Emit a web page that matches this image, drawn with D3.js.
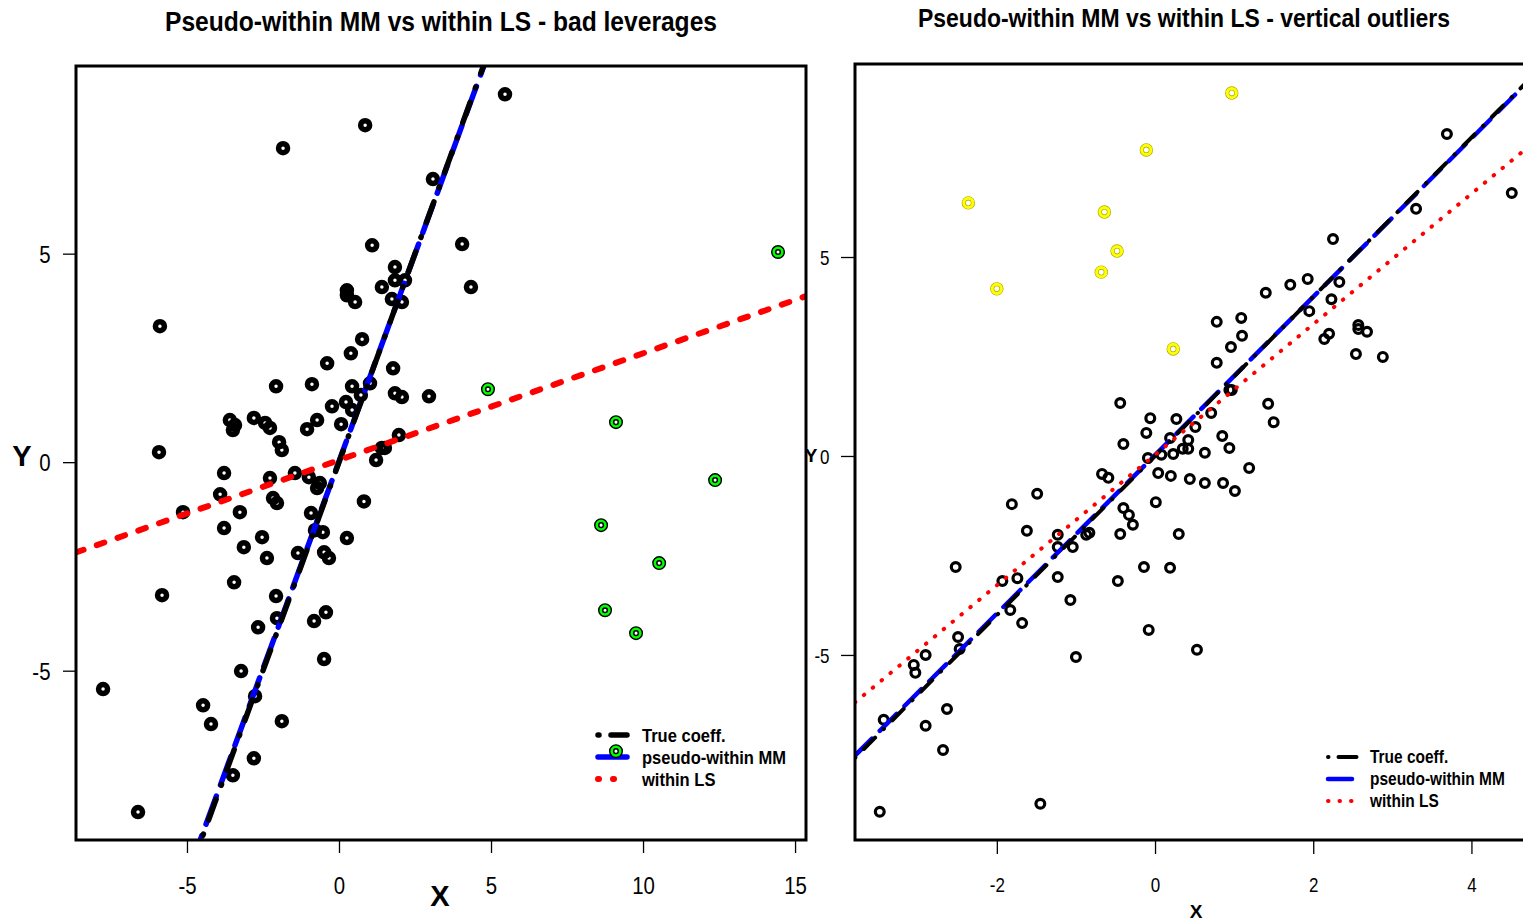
<!DOCTYPE html>
<html>
<head>
<meta charset="utf-8">
<script src="https://cdn.jsdelivr.net/npm/d3@7"></script>
<style>
  body { margin: 0; background: #fff; }
  svg { display: block; }
</style>
</head>
<body>
<svg id="chart"></svg>
<script>
// DATOS - panel izquierdo (bad leverages)
const leftX = [5.46,0.86,-1.84,3.09,1.09,4.05,1.84,1.84,2.17,1.41,0.26,0.26,0.53,1.74,2.07,4.34,-5.89,0.76,0.39,-0.39,
  1.78,-2.07,-0.89,0.43,1.02,1.84,2.07,2.96,0.72,-0.23,0.23,0.43,-0.72,-1.05,0.07,-3.59,-3.42,-3.49,-2.80,-2.43,
  -2.27,-1.97,-1.88,-5.92,1.97,1.41,1.51,1.22,-3.78,-2.27,-1.45,-0.99,-0.63,-0.72,-3.91,-2.17,-2.04,-5.13,-3.26,0.82,
  -0.92,-0.79,-0.53,-3.78,-2.53,-3.13,-2.37,-1.35,-0.49,-0.33,0.26,-3.45,-5.82,-2.07,-2.04,-2.66,-0.82,-0.43,-0.49,-3.22,
  -7.76,-2.76,-4.47,-4.21,-1.88,-2.80,-3.49,-6.61];
const leftY = [8.82,8.08,7.53,6.79,5.20,5.23,4.68,4.36,4.36,4.20,4.12,4.00,3.84,3.91,3.84,4.20,3.26,2.95,2.61,2.37,
  2.25,1.82,1.87,1.82,1.89,1.65,1.56,1.58,1.61,1.34,1.44,1.25,1.01,0.79,0.91,1.01,0.89,0.77,1.06,0.94,
  0.82,0.48,0.29,0.24,0.65,0.34,0.34,0.05,-0.26,-0.38,-0.26,-0.36,-0.50,-0.62,-0.77,-0.86,-0.98,-1.20,-1.20,-0.94,
  -1.22,-1.63,-1.68,-1.58,-1.80,-2.04,-2.30,-2.18,-2.16,-2.30,-1.82,-2.88,-3.19,-3.21,-3.74,-3.96,-3.81,-3.60,-4.72,-5.01,
  -5.44,-5.61,-5.83,-6.28,-6.21,-7.10,-7.51,-8.39];
const levX = [4.90,14.44,9.11,12.37,8.62,10.53,8.75,9.77,9.11];
const levY = [1.75,5.04,0.96,-0.43,-1.51,-2.42,-3.55,-4.10,-6.93];

// DATOS - panel derecho (vertical outliers)
const rightX = [3.69,4.51,3.30,2.25,2.33,1.93,1.71,1.40,2.23,1.95,2.57,2.57,2.68,2.20,2.14,2.54,2.88,0.78,1.09,1.10,
  0.96,0.78,0.94,0.97,1.43,1.50,-0.44,-0.06,0.27,0.71,0.51,-0.11,-0.40,0.19,0.42,0.85,0.94,0.35,0.42,0.63,
  0.23,-0.09,0.08,0.04,0.20,0.44,0.63,0.86,1.01,1.19,-0.67,-0.59,0.01,-0.40,-0.33,-0.28,-0.44,0.30,-0.83,-0.87,
  -1.23,-1.23,-1.04,-1.49,-1.81,-1.62,-2.52,-1.93,-1.74,-1.23,-0.47,-0.14,0.19,-1.07,-1.83,-1.68,-2.49,-2.47,-2.90,-3.05,
  -3.03,-0.08,-1.00,0.53,-2.63,-2.90,-2.68,-3.43,-3.48,-1.45];
const rightY = [8.09,6.61,6.21,5.45,4.37,4.45,4.30,4.10,3.94,3.64,3.29,3.19,3.12,3.07,2.94,2.56,2.49,3.37,3.47,3.02,
  2.74,2.34,1.66,1.66,1.31,0.85,1.33,0.95,0.93,1.08,0.73,0.58,0.30,0.45,0.40,0.50,0.20,0.18,0.18,0.08,
  0.05,-0.05,0.03,-0.43,-0.50,-0.58,-0.68,-0.68,-0.88,-0.30,-0.45,-0.55,-1.16,-1.31,-1.48,-1.73,-1.96,-1.96,-1.93,-1.98,
  -1.98,-2.29,-2.29,-0.95,-1.21,-1.88,-2.79,-3.14,-3.07,-3.04,-3.14,-2.79,-2.81,-3.62,-3.87,-4.20,-4.55,-4.85,-5.00,-5.25,
  -5.45,-4.37,-5.05,-4.87,-6.36,-6.78,-7.39,-6.63,-8.94,-8.74];
const outX = [0.97,-0.11,-2.36,-0.64,-0.48,-0.68,-2.00,0.23];
const outY = [9.12,7.69,6.36,6.13,5.15,4.62,4.20,2.69];

// COEFICIENTES (intercepto, pendiente)
const leftCoef = { trueC: [0, 2.0], mm: [0.02, 1.99], ls: [0.05, 0.256] };
const rightCoef = { trueC: [0, 2.0], mm: [0.02, 1.99], ls: [0.03, 1.64] };

// TICKS
const leftXTicks = [-5, 0, 5, 10, 15];
const leftYTicks = [-5, 0, 5];
const rightXTicks = [-2, 0, 2, 4];
const rightYTicks = [-5, 0, 5];

const legendLabels = ["True coeff.", "pseudo-within MM", "within LS"];
const titles = ["Pseudo-within MM vs within LS - bad leverages", "Pseudo-within MM vs within LS - vertical outliers"];

const FONT = "'Liberation Sans', Arial, sans-serif";

const svg = d3.select("#chart").attr("width", 1523).attr("height", 921);

// PANEL
function panel(cfg) {
  const g = svg.append("g");
  const x = d3.scaleLinear().domain(cfg.xDom).range([cfg.left, cfg.right]);
  const y = d3.scaleLinear().domain(cfg.yDom).range([cfg.bottom, cfg.top]);

  g.append("clipPath").attr("id", cfg.id)
    .append("rect")
    .attr("x", cfg.left).attr("y", cfg.top)
    .attr("width", cfg.right - cfg.left).attr("height", cfg.bottom - cfg.top);

  // titulo (letra estrecha)
  g.append("text")
    .attr("x", cfg.titleX).attr("y", cfg.titleY)
    .attr("text-anchor", "middle")
    .attr("textLength", cfg.titleLen).attr("lengthAdjust", "spacingAndGlyphs")
    .style("font-family", FONT).style("font-weight", "bold").style("font-size", cfg.titleSize + "px")
    .text(cfg.title);

  // ejes
  const xAxis = d3.axisBottom(x).tickValues(cfg.xTicks).tickSize(cfg.tick).tickPadding(cfg.xPad).tickFormat(d => String(d));
  const yAxis = d3.axisLeft(y).tickValues(cfg.yTicks).tickSize(cfg.tick).tickPadding(cfg.yPad).tickFormat(d => String(d));
  const ax = g.append("g").attr("transform", `translate(0,${cfg.bottom})`).call(xAxis);
  const ay = g.append("g").attr("transform", `translate(${cfg.left},0)`).call(yAxis);
  [ax, ay].forEach(a => {
    a.select(".domain").remove();
    a.selectAll("line").attr("stroke", "#000").attr("stroke-width", 1.3);
    a.selectAll("text").style("font-family", FONT).style("font-size", cfg.tickSize + "px").attr("fill", "#000")
      .attr("transform", `scale(${cfg.narrow},1)`);
  });
  ay.selectAll("text").attr("dy", "0.36em");

  // etiquetas X / Y
  g.append("text").attr("x", cfg.xLab[0]).attr("y", cfg.xLab[1]).attr("text-anchor", "middle")
    .style("font-family", FONT).style("font-weight", "bold").style("font-size", cfg.labSize + "px").text("X");
  g.append("text").attr("x", cfg.yLab[0]).attr("y", cfg.yLab[1]).attr("text-anchor", "middle")
    .style("font-family", FONT).style("font-weight", "bold").style("font-size", cfg.labSize + "px").text("Y");

  // puntos negros
  g.append("g").selectAll("circle")
    .data(d3.zip(cfg.px, cfg.py))
    .enter().append("circle")
    .attr("cx", d => x(d[0])).attr("cy", d => y(d[1]))
    .attr("r", cfg.ptR).attr("fill", "none")
    .attr("stroke", "#000").attr("stroke-width", cfg.ptW);

  // rectas
  const lines = g.append("g").attr("clip-path", `url(#${cfg.id})`);
  const seg = c => [[cfg.xDom[0], c[0] + c[1] * cfg.xDom[0]], [cfg.xDom[1], c[0] + c[1] * cfg.xDom[1]]];
  const line = d3.line().x(d => x(d[0])).y(d => y(d[1]));
  cfg.styles.forEach(s => {
    lines.append("path").attr("d", line(seg(cfg.coef[s.key])))
      .attr("fill", "none").attr("stroke", s.color).attr("stroke-width", s.w)
      .attr("stroke-dasharray", s.dash).attr("stroke-linecap", "round");
  });

  // leyenda
  const leg = g.append("g");
  legendLabels.forEach((lab, i) => {
    const s = cfg.styles.find(t => t.leg === i);
    const yy = cfg.legY + i * cfg.legStep;
    leg.append("line").attr("x1", cfg.legX).attr("x2", cfg.legX + cfg.legLen)
      .attr("y1", yy).attr("y2", yy)
      .attr("stroke", s.color).attr("stroke-width", s.w)
      .attr("stroke-dasharray", s.legDash).attr("stroke-linecap", "round");
    const tx = cfg.legX + cfg.legLen + cfg.legGap;
    leg.append("text").attr("x", 0).attr("y", 0).attr("dy", "0.35em")
      .attr("transform", `translate(${tx},${yy}) scale(${cfg.legNarrow},1)`)
      .style("font-family", FONT).style("font-weight", "bold").style("font-size", cfg.legSize + "px")
      .text(lab);
  });

  // puntos atipicos
  const pts = g.append("g").selectAll("g")
    .data(d3.zip(cfg.ox, cfg.oy))
    .enter().append("g")
    .attr("transform", d => `translate(${x(d[0])},${y(d[1])})`);
  cfg.outlier(pts);

  // marco
  g.append("rect")
    .attr("x", cfg.left).attr("y", cfg.top)
    .attr("width", cfg.right - cfg.left).attr("height", cfg.bottom - cfg.top)
    .attr("fill", "none").attr("stroke", "#000").attr("stroke-width", 3);
}

// PANEL DERECHO
panel({
  id: "clipR", left: 855, right: 1545, top: 64, bottom: 840,
  xDom: [-3.793, 4.93], yDom: [-9.65, 9.85],
  xTicks: rightXTicks, yTicks: rightYTicks, tick: 14, xPad: 24, yPad: 16, tickSize: 20, narrow: 0.85,
  title: titles[1], titleX: 1184, titleY: 27, titleSize: 26, titleLen: 532,
  xLab: [1196, 918], yLab: [811, 462], labSize: 19,
  px: rightX, py: rightY, ptR: 4.4, ptW: 3.2,
  ox: outX, oy: outY,
  outlier: sel => {
    sel.append("circle").attr("r", 4.6).attr("fill", "none").attr("stroke", "#a8a800").attr("stroke-width", 4.2);
    sel.append("circle").attr("r", 4.6).attr("fill", "none").attr("stroke", "#ffff00").attr("stroke-width", 3);
  },
  coef: rightCoef,
  styles: [
    { key: "mm", color: "#0000ff", w: 4.5, dash: "24,11", legDash: "24,10", leg: 1 },
    { key: "trueC", color: "#000", w: 4, dash: "0.5,12,16,12", legDash: "0.5,10,18,10", leg: 0 },
    { key: "ls", color: "#ff0000", w: 4, dash: "0.5,11", legDash: "0.5,11", leg: 2 }
  ],
  legX: 1328, legY: 757, legStep: 22, legLen: 29, legGap: 13, legSize: 18, legNarrow: 0.86
});

// PANEL IZQUIERDO
panel({
  id: "clipL", left: 76, right: 806, top: 66, bottom: 840,
  xDom: [-8.65, 15.36], yDom: [-9.06, 9.5],
  xTicks: leftXTicks, yTicks: leftYTicks, tick: 13, xPad: 24, yPad: 17, tickSize: 24, narrow: 0.85,
  title: titles[0], titleX: 441, titleY: 31, titleSize: 27, titleLen: 552,
  xLab: [440, 906], yLab: [22, 466], labSize: 29,
  px: leftX, py: leftY, ptR: 4.5, ptW: 5.5,
  ox: levX, oy: levY,
  outlier: sel => {
    sel.append("circle").attr("r", 6.3).attr("fill", "#00ff00").attr("stroke", "#000").attr("stroke-width", 1.4);
    sel.append("circle").attr("r", 2.3).attr("fill", "#fff").attr("stroke", "#000").attr("stroke-width", 1.5);
  },
  coef: leftCoef,
  styles: [
    { key: "mm", color: "#0000ff", w: 5.5, dash: "30,12", legDash: "30,12", leg: 1 },
    { key: "trueC", color: "#000", w: 5.5, dash: "1,15,22,15", legDash: "1,12,18,12", leg: 0 },
    { key: "ls", color: "#ff0000", w: 6, dash: "8,14", legDash: "1,14", leg: 2 }
  ],
  legX: 598, legY: 735, legStep: 22, legLen: 29, legGap: 15, legSize: 19, legNarrow: 0.87
});
</script>
</body>
</html>
